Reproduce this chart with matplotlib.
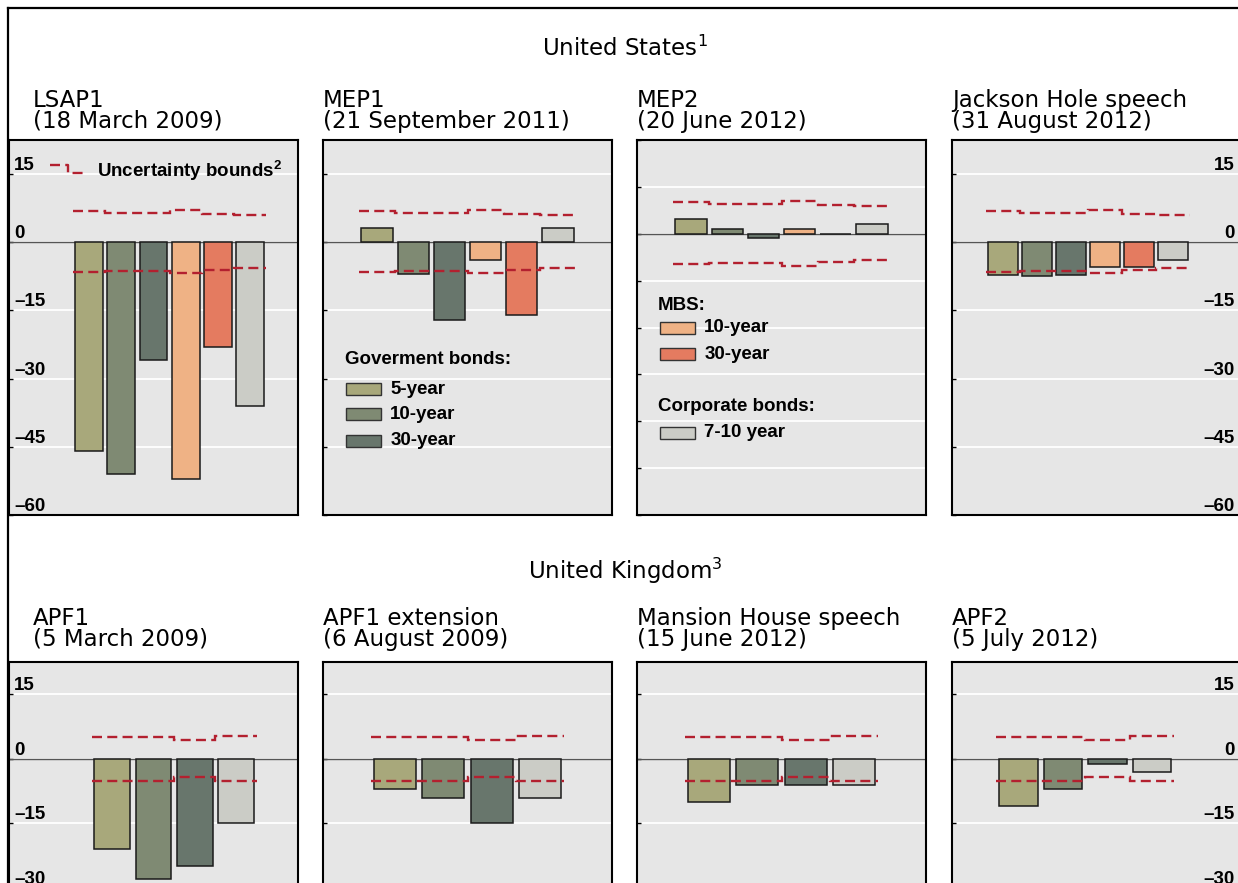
import numpy as np
import matplotlib
matplotlib.use("Agg")
import matplotlib.pyplot as plt
from matplotlib.lines import Line2D
from matplotlib.patches import Rectangle

plt.rcParams['font.family'] = ['Liberation Sans', 'DejaVu Sans']
plt.rcParams['mathtext.fontset'] = 'custom'
plt.rcParams['mathtext.rm'] = 'DejaVu Sans'
plt.rcParams['mathtext.bf'] = 'Liberation Sans:bold'
plt.rcParams['lines.scale_dashes'] = False

W, H = 1238, 883
TITLE_FONT = 'DejaVu Sans'

# colours of the bond types
gov5_col = '#a8a87b'
gov10_col = '#7f8a73'
gov30_col = '#68766c'
mbs10_col = '#efb285'
mbs30_col = '#e47b60'
corp_col = '#cbccc6'
bound_col = '#b3202f'
panel_bg = '#e6e6e6'

us_colors = [gov5_col, gov10_col, gov30_col, mbs10_col, mbs30_col, corp_col]
uk_colors = [gov5_col, gov10_col, gov30_col, corp_col]

# United States: yield changes (basis points) on announcement days
us_titles = ['LSAP1\n(18 March 2009)', 'MEP1\n(21 September 2011)',
             'MEP2\n(20 June 2012)', 'Jackson Hole speech\n(31 August 2012)']
lsap1 = [-46.0, -51.0, -26.0, -52.0, -23.0, -36.0]
mep1 = [3.2, -7.0, -17.1, -3.9, -16.0, 3.2]
mep2 = [3.2, 1.1, -0.9, 1.1, 0.0, 2.1]
jackson_hole = [-7.3, -7.4, -7.2, -5.4, -5.4, -3.9]
us_upper = [6.8, 6.4, 6.4, 7.0, 6.2, 5.9]
us_lower = [-6.5, -6.3, -6.3, -6.8, -6.1, -5.6]

# United Kingdom
uk_titles = ['APF1\n(5 March 2009)', 'APF1 extension\n(6 August 2009)',
             'Mansion House speech\n(15 June 2012)', 'APF2\n(5 July 2012)']
apf1 = [-21.0, -28.1, -25.0, -15.0]
apf1_ext = [-7.0, -9.1, -15.0, -9.1]
mansion_house = [-10.1, -6.1, -6.1, -6.1]
apf2 = [-11.0, -7.0, -1.2, -3.0]
uk_upper = [5.1, 5.1, 4.3, 5.3]
uk_lower = [-5.1, -5.1, -4.3, -5.3]

us_ticks = [15, 0, -15, -30, -45, -60]
mep2_ticks = [20, 10, 0, -10, -20, -30, -40, -50, -60]
uk_ticks = [15, 0, -15, -30, -45]


def tick_text(v):
    return str(v).replace('-', '\u2013')


def px_box(left, top, w, h):
    return [left / W, 1 - (top + h) / H, w / W, h / H]


def draw_panel(ax, values, colors, upper, lower, xlim, ylim, ticks, side=None):
    ax.set_facecolor(panel_bg)
    x = np.arange(len(values))
    ax.axhline(0, color='#555555', lw=1.0, zorder=2)
    ax.bar(x, values, width=0.87, color=colors, edgecolor='#1a1a1a',
           linewidth=1.1, zorder=3)
    edges = np.arange(len(values) + 1) - 0.5
    for b in (upper, lower):
        ax.stairs(b, edges, baseline=None, color=bound_col, lw=1.7,
                  ls=(0, (7.2, 3.8)), zorder=4)
    ax.set_xlim(xlim)
    ax.set_ylim(ylim)
    ax.set_xticks([])
    ax.set_yticks(ticks)
    ax.set_yticklabels([tick_text(t) for t in ticks])
    ax.grid(axis='y', color='white', lw=1.3)
    ax.set_axisbelow(True)
    for s in ax.spines.values():
        s.set_linewidth(1.5)
    ax.tick_params(axis='y', direction='in', length=3, width=1,
                   left=True, right=False, labelleft=False, labelright=False)
    if side == 'left':
        ax.tick_params(axis='y', labelleft=True, pad=-3.6)
        plt.setp(ax.get_yticklabels(), ha='left', va='bottom',
                 fontweight='bold', fontsize=13.5)
    elif side == 'right':
        ax.tick_params(axis='y', labelright=True, pad=-4.3)
        plt.setp(ax.get_yticklabels(), ha='right', va='bottom',
                 fontweight='bold', fontsize=13.5)


def key(ax, x, y, color, label):
    ax.add_patch(Rectangle((x, y - 0.016), 0.121, 0.032, transform=ax.transAxes,
                           facecolor=color, edgecolor='#333333', lw=1.0, zorder=5))
    ax.text(x + 0.155, y, label, transform=ax.transAxes, va='center',
            fontsize=13.5, fontweight='bold', zorder=5)


def panel_title(x, baseline, text):
    # two-line event title; top of box sits one ascent above the first baseline
    fs = 16.5
    asc = 0.76 * fs / 0.72
    fig.text(x / W, 1 - (baseline - asc) / H, text, fontsize=fs,
             family=TITLE_FONT, va='top', ha='left', linespacing=0.9)


fig = plt.figure(figsize=(W / 100, H / 100), dpi=100)

lefts = [9, 323, 637, 952]
panel_w = 289
sides = ['left', None, None, 'right']

# top row
us_data = [lsap1, mep1, mep2, jackson_hole]
us_xlims = [(-2.5, 6.5), (-1.5, 6.5), (-1.5, 6.5), (-1.5, 7.0)]
us_axes = []
for i in range(4):
    ax = fig.add_axes(px_box(lefts[i], 140, panel_w, 375))
    if i == 2:
        draw_panel(ax, us_data[i], us_colors, us_upper, us_lower,
                   us_xlims[i], (-60, 20), mep2_ticks, sides[i])
    else:
        draw_panel(ax, us_data[i], us_colors, us_upper, us_lower,
                   us_xlims[i], (-60, 22.5), us_ticks, sides[i])
    us_axes.append(ax)
    panel_title(33 if i == 0 else lefts[i], 106, us_titles[i])

# bottom row
uk_data = [apf1, apf1_ext, mansion_house, apf2]
uk_xlims = [(-2.5, 4.5), (-1.5, 4.5), (-1.5, 4.5), (-1.5, 5.0)]
for i in range(4):
    ax = fig.add_axes(px_box(lefts[i], 662, panel_w, 290))
    draw_panel(ax, uk_data[i], uk_colors, uk_upper, uk_lower,
               uk_xlims[i], (-45, 22.5), uk_ticks, sides[i])
    panel_title(33 if i == 0 else lefts[i], 624, uk_titles[i])

fig.text(625 / W, 1 - 56 / H, 'United States$^{1}$', fontsize=16.5,
         family=TITLE_FONT, ha='center', va='baseline')
fig.text(625 / W, 1 - 579 / H, 'United Kingdom$^{3}$', fontsize=16.5,
         family=TITLE_FONT, ha='center', va='baseline')

# uncertainty bound key
ax = us_axes[0]
ax.plot([0.142, 0.204, 0.204, 0.266], [0.933, 0.933, 0.912, 0.912],
        color=bound_col, lw=1.7, dashes=(7.2, 3.8), transform=ax.transAxes,
        zorder=5)
ax.text(0.304, 0.918, r'Uncertainty bounds$^{\mathbf{2}}$', transform=ax.transAxes,
        va='center', fontsize=13.5, fontweight='bold')

# government bond key
ax = us_axes[1]
ax.text(0.076, 0.416, 'Goverment bonds:', transform=ax.transAxes, va='center',
        fontsize=13.5, fontweight='bold')
key(ax, 0.078, 0.336, gov5_col, '5-year')
key(ax, 0.078, 0.269, gov10_col, '10-year')
key(ax, 0.078, 0.198, gov30_col, '30-year')

# MBS and corporate key
ax = us_axes[2]
ax.text(0.072, 0.56, 'MBS:', transform=ax.transAxes, va='center',
        fontsize=13.5, fontweight='bold')
key(ax, 0.078, 0.4995, mbs10_col, '10-year')
key(ax, 0.078, 0.429, mbs30_col, '30-year')
ax.text(0.072, 0.289, 'Corporate bonds:', transform=ax.transAxes, va='center',
        fontsize=13.5, fontweight='bold')
key(ax, 0.078, 0.219, corp_col, '7-10 year')

# frame lines
fig.add_artist(Line2D([8 / W, 1], [1 - 7.5 / H, 1 - 7.5 / H], color='black',
                      lw=1.6, transform=fig.transFigure))
fig.add_artist(Line2D([8 / W, 8 / W], [0, 1 - 7.5 / H], color='black',
                      lw=1.6, transform=fig.transFigure))

fig.savefig('out.png', dpi=100)
